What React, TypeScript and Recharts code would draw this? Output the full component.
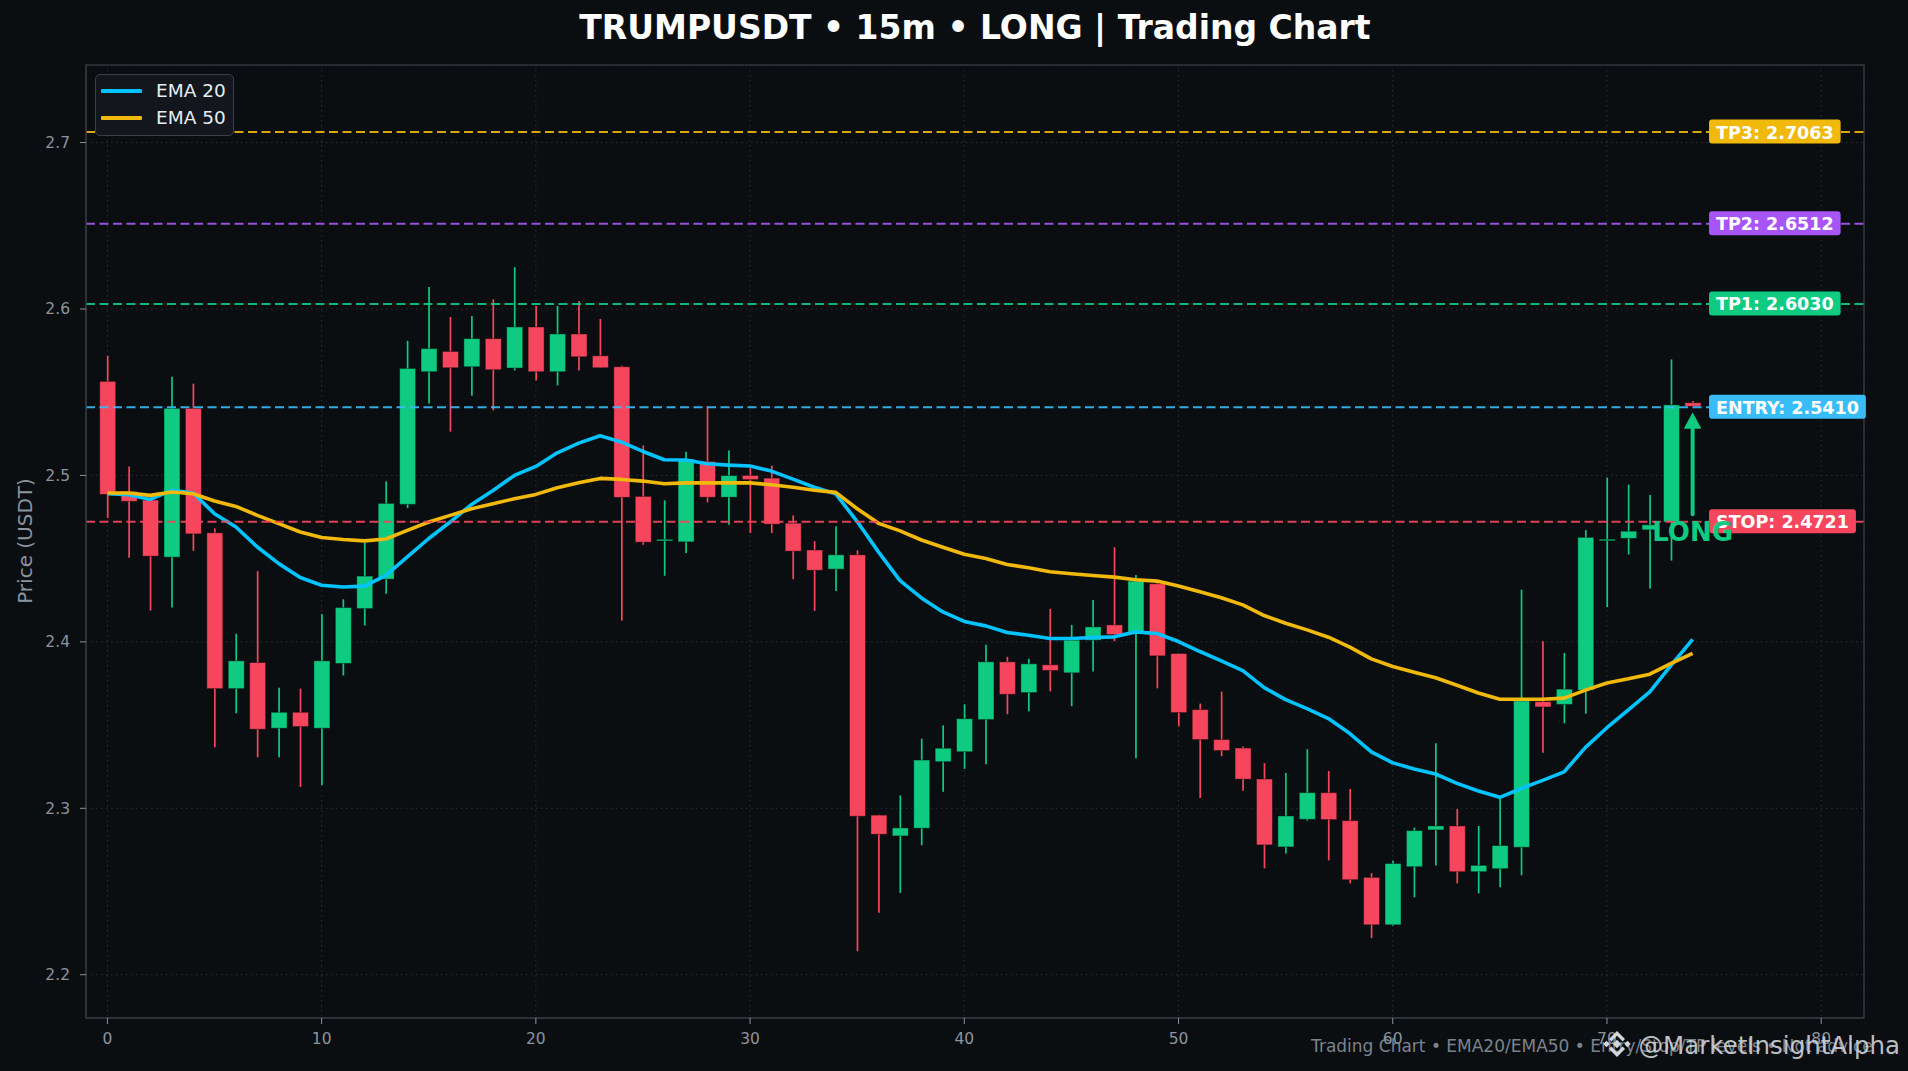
import React from 'react';
import {
  ComposedChart,
  Bar,
  Line,
  XAxis,
  YAxis,
  CartesianGrid,
  ReferenceLine,
  ReferenceDot,
  ReferenceArea,
  Legend,
} from 'recharts';

// ---------------- data ----------------
const OPEN = [
  2.5565, 2.4904, 2.4852, 2.4509, 2.5403, 2.4655, 2.3719, 2.3876, 2.3481, 2.3577,
  2.3481, 2.387, 2.42, 2.4377, 2.4826, 2.5623, 2.5745, 2.5653, 2.5822, 2.5645,
  2.5892, 2.5623, 2.585, 2.5719, 2.5653, 2.4874, 2.4611, 2.4601, 2.5084, 2.4869,
  2.5, 2.4984, 2.4713, 2.4552, 2.4437, 2.4523, 2.2959, 2.2834, 2.288, 2.328,
  2.334, 2.3533, 2.388, 2.3695, 2.3862, 2.3814, 2.401, 2.4102, 2.406, 2.4349,
  2.393, 2.3593, 2.3413, 2.3362, 2.3176, 2.2768, 2.2934, 2.3094, 2.2926, 2.2585,
  2.23, 2.2649, 2.287, 2.2894, 2.2619, 2.2637, 2.2766, 2.3641, 2.3624, 2.371,
  2.4609, 2.4622, 2.4673, 2.472, 2.5437,
];
const HIGH = [
  2.5719, 2.5054, 2.4862, 2.5593, 2.5551, 2.4681, 2.4048, 2.4425, 2.3725, 2.3719,
  2.4168, 2.4256, 2.4595, 2.4964, 2.5808, 2.6132, 2.5952, 2.5958, 2.6058, 2.6251,
  2.6018, 2.6018, 2.6048, 2.594, 2.5659, 2.518, 2.485, 2.5143, 2.5416, 2.515,
  2.5044, 2.5059, 2.476, 2.4605, 2.4694, 2.455, 2.2961, 2.3077, 2.3418, 2.3498,
  2.3625, 2.3982, 2.391, 2.3898, 2.4198, 2.4102, 2.4251, 2.4569, 2.4401, 2.4355,
  2.3932, 2.3629, 2.3701, 2.3371, 2.3271, 2.3212, 2.3355, 2.3224, 2.3116, 2.2611,
  2.2685, 2.2884, 2.3391, 2.2996, 2.2894, 2.306, 2.4313, 2.4004, 2.3933, 2.4671,
  2.4987, 2.4944, 2.4882, 2.5697, 2.5447,
];
const LOW = [
  2.4744, 2.4505, 2.4188, 2.4206, 2.4547, 2.3367, 2.3571, 2.3307, 2.3307, 2.3128,
  2.314, 2.3798, 2.4098, 2.4289, 2.4804, 2.5431, 2.5263, 2.5479, 2.5391, 2.5631,
  2.5571, 2.5541, 2.5631, 2.5645, 2.4128, 2.4583, 2.4397, 2.4534, 2.4838, 2.4703,
  2.4654, 2.4654, 2.4377, 2.4186, 2.4306, 2.2141, 2.2372, 2.2492, 2.2778, 2.3099,
  2.3237, 2.3265, 2.3565, 2.3583, 2.3703, 2.3613, 2.3822, 2.4004, 2.3301, 2.3721,
  2.3493, 2.3062, 2.3313, 2.3105, 2.2639, 2.2729, 2.2926, 2.2687, 2.2549, 2.222,
  2.2295, 2.2465, 2.2657, 2.2549, 2.2489, 2.2525, 2.2597, 2.3333, 2.351, 2.3568,
  2.4209, 2.4525, 2.432, 2.4488, 2.5415,
];
const CLOSE = [
  2.4886, 2.4844, 2.4515, 2.5403, 2.4649, 2.3719, 2.3886, 2.3475, 2.3577, 2.3491,
  2.3886, 2.4206, 2.4395, 2.4832, 2.5643, 2.5762, 2.5647, 2.5822, 2.5635, 2.5892,
  2.5623, 2.585, 2.5713, 2.5647, 2.4868, 2.4599, 2.4616, 2.5099, 2.4869, 2.4999,
  2.4975, 2.4707, 2.4545, 2.443, 2.4523, 2.2952, 2.2844, 2.2882, 2.329, 2.3361,
  2.3538, 2.388, 2.3685, 2.3868, 2.3828, 2.401, 2.409, 2.4044, 2.4365, 2.3916,
  2.3575, 2.3413, 2.3347, 2.3175, 2.278, 2.2954, 2.3094, 2.2932, 2.2571, 2.23,
  2.2668, 2.2866, 2.2894, 2.2619, 2.2657, 2.2776, 2.3645, 2.3609, 2.3716, 2.4628,
  2.4617, 2.4665, 2.4703, 2.5424, 2.5415,
];
const EMA20 = [
  2.489, 2.4884, 2.4856, 2.491, 2.4894, 2.477, 2.469, 2.457, 2.447, 2.4387,
  2.434, 2.433, 2.4335, 2.44, 2.4511, 2.4621, 2.472, 2.4826, 2.491, 2.5,
  2.5054, 2.5136, 2.5194, 2.5238, 2.52, 2.5144, 2.5094, 2.5093, 2.507, 2.5062,
  2.5057, 2.5026, 2.4978, 2.4929, 2.4889, 2.4723, 2.4539, 2.4368, 2.4264, 2.418,
  2.4123, 2.4096, 2.4056, 2.404, 2.402, 2.402, 2.4026, 2.403, 2.406, 2.405,
  2.4002, 2.3942, 2.3886, 2.3827, 2.3725, 2.3653, 2.3599, 2.3539, 2.3449, 2.3339,
  2.3273, 2.3236, 2.3206, 2.315, 2.3104, 2.3066, 2.3119, 2.3168, 2.3219, 2.3366,
  2.3484, 2.3591, 2.3699, 2.386, 2.4015,
];
const EMA50 = [
  2.4894, 2.4894, 2.488, 2.49, 2.489, 2.4846, 2.4814, 2.476, 2.471, 2.466,
  2.4627, 2.4615, 2.4607, 2.4618, 2.467, 2.472, 2.476, 2.48, 2.483, 2.486,
  2.4886, 2.4926, 2.4956, 2.4982, 2.4976, 2.4966, 2.495, 2.4955, 2.4955, 2.4955,
  2.4955, 2.4944, 2.4929, 2.4911, 2.4898, 2.48, 2.4712, 2.4667, 2.4612, 2.4568,
  2.4526, 2.4501, 2.4465, 2.4445, 2.4421, 2.4409, 2.4399, 2.4389, 2.4373, 2.4365,
  2.4335, 2.4301, 2.4265, 2.4222, 2.4158, 2.4112, 2.4072, 2.4028, 2.3968, 2.3898,
  2.3852, 2.3818, 2.3784, 2.3739, 2.3693, 2.3655, 2.3655, 2.3655, 2.3662, 2.371,
  2.3753, 2.3778, 2.3806, 2.3871, 2.3931,
];

const LEVEL_NAMES = ['TP3', 'TP2', 'TP1', 'ENTRY', 'STOP'];
const LEVEL_VALUES = [2.7063, 2.6512, 2.603, 2.541, 2.4721];
const LEVEL_COLORS = ['#f0b90b', '#a855f7', '#0ecb81', '#38bdf8', '#f6465d'];

const X_TICKS = [0, 10, 20, 30, 40, 50, 60, 70, 80];
const Y_TICKS = [2.2, 2.3, 2.4, 2.5, 2.6, 2.7];
const X_DOMAIN = [-1, 82];
const Y_DOMAIN = [2.174, 2.7466];

const LABEL_X = 75; // x position (bar index) of the level tags
const SIGNAL_X = 74; // last candle, where the LONG marker sits
const ARROW_FROM = 2.4767;
const ARROW_TO = 2.5374;

// ---------------- styles ----------------
const BG = '#0b0e11';
const GREEN = '#0ecb81';
const RED = '#f6465d';
const TICK = '#8b949e';
const SPINE = '#30363d';
const FONT = '"DejaVu Sans", Verdana, sans-serif';

const data = OPEN.map((o, i) => ({
  i,
  o,
  h: HIGH[i],
  l: LOW[i],
  c: CLOSE[i],
  ema20: EMA20[i],
  ema50: EMA50[i],
}));

let measureCtx: CanvasRenderingContext2D | null = null;
function measure(text: string, font: string): number {
  if (!measureCtx) {
    const cv = document.createElement('canvas');
    measureCtx = cv.getContext('2d');
  }
  if (!measureCtx) return text.length * 10;
  measureCtx.font = font;
  return measureCtx.measureText(text).width;
}

const Candle = (props: any) => {
  const { x, y, width, height, payload } = props;
  if (x == null || y == null || !payload) return null;
  const { o, h, l, c } = payload;
  const up = c >= o;
  const color = up ? GREEN : RED;
  const cx = x + width / 2;
  const span = h - l;
  const py = (v: number) => (span > 0 ? y + ((h - v) / span) * height : y);
  const top = py(Math.max(o, c));
  const bot = py(Math.min(o, c));
  const bh = Math.max(bot - top, 1.6);
  return (
    <g>
      <line x1={cx} x2={cx} y1={y} y2={y + height} stroke={color} strokeWidth={1.7} />
      <rect
        x={x}
        y={top}
        width={width}
        height={bh}
        fill={color}
        stroke="rgba(0,0,0,0.4)"
        strokeWidth={1}
      />
    </g>
  );
};

const TAG_FONT = 17.5;
const makeTag = (text: string, color: string) => (props: any) => {
  const { cx, cy } = props;
  if (cx == null || cy == null) return null;
  const tw = measure(text, `bold ${TAG_FONT}px "DejaVu Sans"`);
  const pad = 7;
  const left = cx - 5;
  return (
    <g>
      <rect x={left} y={cy - 12.5} width={tw + pad * 2} height={24} rx={3} ry={3} fill={color} />
      <text
        x={left + pad}
        y={cy + 0.5}
        dominantBaseline="central"
        fill="#ffffff"
        fontWeight="bold"
        fontSize={TAG_FONT}
        fontFamily={FONT}
      >
        {text}
      </text>
    </g>
  );
};

const LongText = (props: any) => {
  const { cx, cy } = props;
  if (cx == null || cy == null) return null;
  return (
    <text
      x={cx}
      y={cy}
      textAnchor="middle"
      dominantBaseline="hanging"
      fill={GREEN}
      fontWeight="bold"
      fontSize={26}
      fontFamily={FONT}
    >
      LONG
    </text>
  );
};

const ArrowShape = (props: any) => {
  const { x1, y1, x2, y2 } = props;
  if (x1 == null || y1 == null || y2 == null) return null;
  const x = x1;
  const tip = Math.min(y1, y2);
  const tail = Math.max(y1, y2);
  const headL = 15;
  const headW = 8;
  return (
    <g>
      <line
        x1={x}
        x2={x}
        y1={tail}
        y2={tip + headL - 2}
        stroke={GREEN}
        strokeWidth={4}
        strokeLinecap="round"
      />
      <polygon
        points={`${x},${tip} ${x - headW},${tip + headL} ${x + headW},${tip + headL}`}
        fill={GREEN}
        stroke={GREEN}
        strokeWidth={1}
        strokeLinejoin="round"
      />
    </g>
  );
};

const LegendBox = (props: any) => {
  const payload = (props.payload || []).filter((p: any) => p.type !== 'none');
  return (
    <div
      style={{
        width: 139,
        height: 62,
        boxSizing: 'border-box',
        background: '#13171d',
        border: '1.5px solid #3a3f47',
        borderRadius: 5,
        paddingTop: 2,
        fontFamily: FONT,
      }}
    >
      {payload.map((p: any) => (
        <div
          key={p.value}
          style={{ height: 27, display: 'flex', alignItems: 'center', position: 'relative' }}
        >
          <div
            style={{
              position: 'absolute',
              left: 5,
              width: 41,
              height: 4,
              background: p.color,
              borderRadius: 1,
            }}
          />
          <span
            style={{
              position: 'absolute',
              left: 60,
              color: '#e6edf3',
              fontSize: 18.5,
              lineHeight: '27px',
              whiteSpace: 'nowrap',
            }}
          >
            {p.value}
          </span>
        </div>
      ))}
    </div>
  );
};

const BinanceLogo = ({ cx, cy, color }: { cx: number; cy: number; color: string }) => {
  const d = (x: number, y: number, r: number) =>
    `${x},${y - r} ${x + r},${y} ${x},${y + r} ${x - r},${y}`;
  return (
    <g fill={color}>
      <polygon points={d(cx, cy, 4.2)} />
      <polygon points={d(cx - 10.5, cy, 3.2)} />
      <polygon points={d(cx + 10.5, cy, 3.2)} />
      <polygon
        points={`${cx - 8},${cy - 5} ${cx},${cy - 13} ${cx + 8},${cy - 5} ${cx + 5.6},${cy - 2.6} ${cx},${cy - 8.2} ${cx - 5.6},${cy - 2.6}`}
      />
      <polygon
        points={`${cx - 8},${cy + 5} ${cx},${cy + 13} ${cx + 8},${cy + 5} ${cx + 5.6},${cy + 2.6} ${cx},${cy + 8.2} ${cx - 5.6},${cy + 2.6}`}
      />
    </g>
  );
};

export default function App() {
  React.useEffect(() => {
    document.body.style.background = BG;
  }, []);
  return (
    <div
      style={{
        position: 'absolute',
        left: 0,
        top: 0,
        width: 1908,
        height: 1071,
        background: BG,
        fontFamily: FONT,
        overflow: 'hidden',
      }}
    >
      <ComposedChart
        width={1908}
        height={1071}
        data={data}
        margin={{ top: 65, right: 44, bottom: 23, left: 0 }}
        style={{ fontFamily: FONT }}
      >
        <CartesianGrid stroke="#2a2f36" strokeDasharray="1.5 3.5" strokeWidth={1} />
        <XAxis
          dataKey="i"
          type="number"
          domain={X_DOMAIN}
          ticks={X_TICKS}
          allowDataOverflow
          height={30}
          tickSize={6}
          tickMargin={9}
          tick={{ fill: TICK, fontSize: 15.5, fontFamily: FONT }}
          tickLine={{ stroke: TICK }}
          axisLine={{ stroke: SPINE, strokeWidth: 1.5 }}
        />
        <YAxis
          type="number"
          domain={Y_DOMAIN}
          ticks={Y_TICKS}
          allowDataOverflow
          width={86}
          tickSize={6}
          tickMargin={10}
          tickFormatter={(v: number) => v.toFixed(1)}
          tick={{ fill: TICK, fontSize: 15.5, fontFamily: FONT }}
          tickLine={{ stroke: TICK }}
          axisLine={{ stroke: SPINE, strokeWidth: 1.5 }}
        />
        <ReferenceArea
          x1={X_DOMAIN[0]}
          x2={X_DOMAIN[1]}
          y1={Y_DOMAIN[0]}
          y2={Y_DOMAIN[1]}
          fill="none"
          fillOpacity={0}
          stroke={SPINE}
          strokeWidth={1.5}
          ifOverflow="visible"
        />
        <Bar
          dataKey={(d: any) => [d.l, d.h]}
          barSize={16}
          shape={Candle}
          isAnimationActive={false}
          legendType="none"
          name="OHLC"
        />
        <Line
          type="linear"
          dataKey="ema20"
          name="EMA 20"
          stroke="#00c3ff"
          strokeWidth={3.6}
          strokeLinejoin="round"
          dot={false}
          activeDot={false}
          isAnimationActive={false}
        />
        <Line
          type="linear"
          dataKey="ema50"
          name="EMA 50"
          stroke="#f0b90b"
          strokeWidth={3.6}
          strokeLinejoin="round"
          dot={false}
          activeDot={false}
          isAnimationActive={false}
        />
        {LEVEL_VALUES.map((v, k) => (
          <ReferenceLine
            key={LEVEL_NAMES[k]}
            y={v}
            stroke={LEVEL_COLORS[k]}
            strokeWidth={2}
            strokeDasharray="9 4.5"
            strokeOpacity={0.9}
          />
        ))}
        {LEVEL_VALUES.map((v, k) => (
          <ReferenceDot
            key={'tag-' + LEVEL_NAMES[k]}
            x={LABEL_X}
            y={v}
            r={0}
            ifOverflow="visible"
            shape={makeTag(`${LEVEL_NAMES[k]}: ${v.toFixed(4)}`, LEVEL_COLORS[k])}
          />
        ))}
        <ReferenceLine
          segment={[
            { x: SIGNAL_X, y: ARROW_FROM },
            { x: SIGNAL_X, y: ARROW_TO },
          ]}
          stroke={GREEN}
          ifOverflow="visible"
          shape={ArrowShape}
        />
        <ReferenceDot
          x={SIGNAL_X}
          y={LEVEL_VALUES[4]}
          r={0}
          ifOverflow="visible"
          shape={LongText}
        />
        <Legend
          layout="horizontal"
          align="center"
          verticalAlign="middle"
          wrapperStyle={{ left: 95, top: 74, width: 139, height: 62 }}
          content={LegendBox}
        />
      </ComposedChart>
      <svg
        width={1908}
        height={1071}
        style={{ position: 'absolute', left: 0, top: 0, pointerEvents: 'none' }}
      >
        <text
          x={975}
          y={39}
          textAnchor="middle"
          fontSize={33}
          fontWeight="bold"
          fill="#ffffff"
          fontFamily={FONT}
        >
          TRUMPUSDT • 15m • LONG | Trading Chart
        </text>
        <text
          transform="translate(25,541) rotate(-90)"
          textAnchor="middle"
          dominantBaseline="central"
          fontSize={20}
          fill={TICK}
          fontFamily={FONT}
        >
          Price (USDT)
        </text>
        <text x={1311} y={1052} fontSize={17} fill="#7b838d" fontFamily={FONT}>
          Trading Chart • EMA20/EMA50 • Entry/Stop/TP levels • Not advice
        </text>
        <BinanceLogo cx={1617} cy={1044} color="#d3d6db" />
        <text
          x={1900}
          y={1054}
          textAnchor="end"
          fontSize={24.5}
          fill="#d3d6db"
          fillOpacity={0.9}
          fontFamily={FONT}
        >
          @MarketInsightAlpha
        </text>
      </svg>
    </div>
  );
}
